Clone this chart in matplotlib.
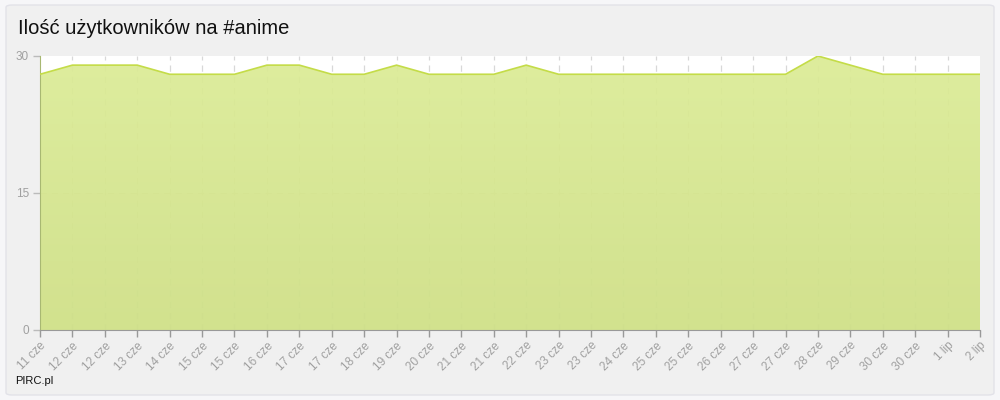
import matplotlib
matplotlib.use("Agg")
import matplotlib.pyplot as plt
import numpy as np
from matplotlib.patches import FancyBboxPatch

plt.rcParams["font.family"] = ["Liberation Sans", "DejaVu Sans"]

labels = ["11 cze", "12 cze", "12 cze", "13 cze", "14 cze", "15 cze", "15 cze",
          "16 cze", "17 cze", "17 cze", "18 cze", "19 cze", "20 cze", "21 cze",
          "21 cze", "22 cze", "23 cze", "23 cze", "24 cze", "25 cze", "25 cze",
          "26 cze", "27 cze", "27 cze", "28 cze", "29 cze", "30 cze", "30 cze",
          "1 lip", "2 lip"]
users = [28, 29, 29, 29, 28, 28, 28, 29, 29, 28, 28, 29, 28, 28, 28, 29, 28, 28,
         28, 28, 28, 28, 28, 28, 30, 29, 28, 28, 28, 28]
yticks = [0, 15, 30]

fig = plt.figure(figsize=(10, 4), dpi=100)
fig.patch.set_facecolor("#f6f6f8")
panel = FancyBboxPatch((0.006, 0.0125), 0.988, 0.975, boxstyle="round,pad=0,rounding_size=0.006",
                       transform=fig.transFigure, facecolor="#f0f0f0", edgecolor="#e2e2e8",
                       linewidth=1, zorder=-10)
fig.patches.append(panel)

ax = fig.add_axes([0.04, 0.175, 0.94, 0.685])
ax.set_zorder(5)
ax.set_facecolor("white")
x = np.arange(len(users))

# dashed grid sits under the (nearly opaque) fill
for xi in x[1:-1]:
    ax.axvline(xi, color="#d8d8d8", linestyle=(0, (5, 4)), linewidth=0.9, zorder=0.5)
ax.axhline(15, color="#d8d8d8", linestyle=(0, (5, 4)), linewidth=0.9, zorder=0.5)

# gradient fill clipped to area under the line
poly = ax.fill_between(x, 0, users, color="none", linewidth=0)
grad = np.linspace(0, 1, 256).reshape(-1, 1)
cmap = matplotlib.colors.LinearSegmentedColormap.from_list("g", ["#cfe087", "#dcec97"])
img = ax.imshow(grad, cmap=cmap, aspect="auto", origin="lower", alpha=0.94,
                extent=[0, len(users) - 1, 0, 30], zorder=1)
img.set_clip_path(poly.get_paths()[0], transform=ax.transData)
ax.plot(x, users, color="#c4dc48", linewidth=1.2, zorder=3)

ax.set_xlim(0, len(users) - 1)
ax.set_ylim(0, 30)
ax.set_yticks(yticks)
ax.set_xticks(x)
ax.set_xticklabels(labels, rotation=45, ha="right", rotation_mode="anchor")
ax.tick_params(axis="x", colors="#999999", labelsize=8.5, length=5, width=1, pad=2)
ax.tick_params(axis="y", colors="#bbbbbb", labelsize=8.5, length=5, width=1, pad=3)
for lab in ax.get_xticklabels() + ax.get_yticklabels():
    lab.set_color("#a0a0a0")
for s in ["top", "right"]:
    ax.spines[s].set_visible(False)
ax.spines["left"].set_color("#a8b872")
ax.spines["bottom"].set_color("#999999")

fig.text(0.018, 0.93, "Ilość użytkowników na #anime", fontsize=14.5, color="#111111",
         ha="left", va="center")
fig.text(0.015, 0.047, "PIRC.pl", fontsize=8, color="#111111", ha="left", va="center")

fig.savefig("out.png", dpi=100, facecolor=fig.get_facecolor())
